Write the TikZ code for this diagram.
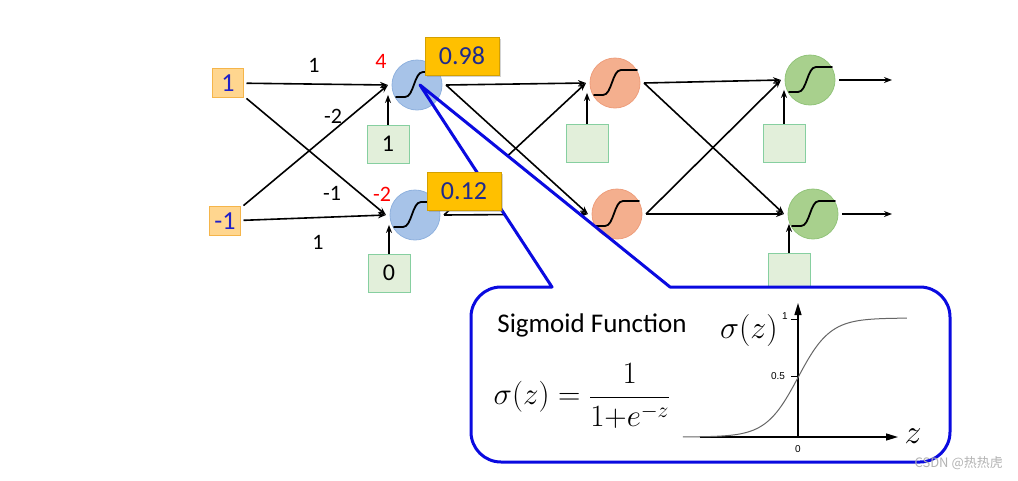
\RequirePackage{fix-cm}
\documentclass[tikz,border=0pt]{standalone}
\usepackage{fontspec}
\setmainfont{Carlito}
\newfontfamily\axisfont{Liberation Sans}
\newfontfamily\cjkfont{Noto Sans CJK SC}
\usetikzlibrary{arrows.meta,shadows}

\definecolor{infill}{HTML}{FFD68F}
\definecolor{inline}{HTML}{F5B54A}
\definecolor{intext}{HTML}{2020C8}
\definecolor{valfill}{HTML}{FFC000}
\definecolor{valline}{HTML}{D4A000}
\definecolor{valtext}{HTML}{1F2A8C}
\definecolor{biasfill}{HTML}{E2EFDA}
\definecolor{biasline}{HTML}{86CFA0}
\definecolor{bluefill}{HTML}{A7C3E8}
\definecolor{blueline}{HTML}{8FB1DE}
\definecolor{orangefill}{HTML}{F4AF8E}
\definecolor{orangeline}{HTML}{EE9E7C}
\definecolor{greenfill}{HTML}{A8D08D}
\definecolor{greenline}{HTML}{92C47A}
\definecolor{calloutblue}{HTML}{0A0AE0}

\pgfdeclarelayer{background}
\pgfsetlayers{background,main}

\tikzset{sig/.pic={
    \draw[line width=1.8pt, line cap=round] (-21,12) -- (-12,12) .. controls (-3,12) and (-3,-13) .. (6,-13) -- (22,-13);
}}

\begin{document}
\begin{tikzpicture}[x=1pt, y=-1pt, >={Stealth[length=8pt, width=6pt]}]
    \tikzstyle{every node}+=[inner sep=0pt]
    \tikzstyle{inbox}=[draw=inline, fill=infill, line width=0.8pt, minimum width=31pt, minimum height=29pt, outer sep=3pt, text=intext, font=\fontsize{26}{26}\selectfont]
    \tikzstyle{biasbox}=[draw=biasline, fill=biasfill, line width=0.8pt, minimum width=42pt, minimum height=38pt, font=\fontsize{24}{24}\selectfont]
    \tikzstyle{valbox}=[draw=valline, fill=valfill, line width=0.8pt, minimum width=74pt, minimum height=38pt, text=valtext, font=\fontsize{26}{26}\selectfont, drop shadow={shadow xshift=2pt, shadow yshift=-2pt, opacity=0.35}]
    \tikzstyle{neuron}=[circle, minimum size=50pt, outer sep=4pt, line width=0.8pt]
    \tikzstyle{weight}=[font=\fontsize{22}{22}\selectfont]
    \tikzstyle{zval}=[text=red, font=\fontsize{22}{22}\selectfont]
    \tikzstyle{wire}=[->, line width=1.6pt]
    \tikzstyle{calloutline}=[draw=calloutblue, line width=3pt, line join=round]
    \useasboundingbox (0,0) rectangle (1018,480);

    % inputs and biases
    \node[inbox] (in1) at (228,83) {1};
    \node[inbox] (in2) at (225,221) {-1};
    \node[biasbox] (hb1) at (388,144) {1};
    \node[biasbox] (hb2) at (389,273) {0};
    \node[biasbox] (ob1) at (587,143) {};
    \node[biasbox] (gb1) at (784,143) {};
    \node[biasbox] (gb2) at (789,272) {};

    % neurons
    \node[neuron, draw=blueline, fill=bluefill] (h1) at (417,85) {};
    \node[neuron, draw=blueline, fill=bluefill] (h2) at (415,215) {};
    \node[neuron, draw=orangeline, fill=orangefill] (o1) at (615,83) {};
    \node[neuron, draw=orangeline, fill=orangefill] (o2) at (617,214) {};
    \node[neuron, draw=greenline, fill=greenfill] (g1) at (810,80) {};
    \node[neuron, draw=greenline, fill=greenfill] (g2) at (813,214) {};
    \foreach \n in {h1,h2,o1,o2,g1,g2}
        \pic at (\n) {sig};
    \coordinate (y1) at (892,80);
    \coordinate (y2) at (892,214);

    % labels
    \node[weight] (w1) at (314,65) {1};
    \node[weight] (w2) at (333,116) {-2};
    \node[weight] (w3) at (332,193) {-1};
    \node[weight] (w4) at (318,242) {1};
    \node[zval] (z1) at (381,61) {4};
    \node[zval] (z2) at (382,194) {-2};

    \begin{pgfonlayer}{background}
        \path[wire] (in1) edge (h1.west)
                    (in1) edge (h2.west)
                    (in2) edge (h1.west)
                    (in2) edge (h2.west)
                    (hb1.north) edge (hb1.north |- h1.200)
                    (hb2.north) edge (hb2.north |- h2.200)
                    (h1.east) edge (o1.west)
                    (h2.east) edge (o1.west)
                    (h2.east) edge (o2.west)
                    (ob1.north) edge (ob1.north |- o1.200)
                    (o1.east) edge (g1.west)
                    (o1.east) edge (g2.west)
                    (o2.east) edge (g1.west)
                    (o2.east) edge (g2.west)
                    (gb1.north) edge (gb1.north |- g1.200)
                    (gb2.north) edge (gb2.north |- g2.200)
                    (g1.east) edge (y1)
                    (g2.east) edge (y2);
        \fill[white] (420,85) -- (552,287) -- (670,287) -- cycle;
        \path[wire] (h1.east) edge (o2.west);
    \end{pgfonlayer}

    % callout
    \fill[white, rounded corners=30pt] (471,287) rectangle (950,462);
    \draw[calloutline] (700,462) [rounded corners=30pt] -- (471,462) -- (471,287)
        [sharp corners] -- (552,287) -- (420,85) -- (670,287)
        [rounded corners=30pt] -- (950,287) -- (950,462) -- cycle;

    \node[valbox] (v1) at (462,56) {0.98};
    \node[valbox] (v2) at (464,191) {0.12};

    % sigmoid plot
    \draw[line width=1.3pt, -{Triangle[length=12pt, width=7pt]}] (700,437) -- (898,437);
    \draw[line width=1.3pt, -{Triangle[length=12pt, width=7pt]}] (798,437) -- (798,303);
    \draw[line width=0.6pt] (791,319) -- (798,319) (791,376) -- (798,376);
    \draw[gray!80!black, line width=1pt] plot[domain=-7.2:6.8, samples=80, smooth] ({798+16*\x}, {437-119/(1+exp(-\x))});
    \node[font=\axisfont\fontsize{10}{10}\selectfont] (t1) at (785,316) {1};
    \node[font=\axisfont\fontsize{10}{10}\selectfont] (t05) at (778,376) {0.5};
    \node[font=\axisfont\fontsize{10}{10}\selectfont] (t0) at (798,449) {0};
    \node[font=\fontsize{34}{34}\selectfont] (zaxis) at (913,436) {$z$};
    \node[font=\fontsize{32}{32}\selectfont] (sigz) at (749,330) {$\sigma(z)$};
    \node[font=\fontsize{27}{27}\selectfont] (title) at (592,325) {Sigmoid Function};
    \node[font=\fontsize{31}{31}\selectfont] (formula) at (582,396) {$\displaystyle\sigma\bigl(z\bigr)=\frac{1}{1{+}e^{-z}}$};

    \node[anchor=east, text=gray!60, font=\cjkfont\fontsize{13}{13}\selectfont] (mark) at (1003,463) {CSDN @热热虎};
\end{tikzpicture}
\end{document}
